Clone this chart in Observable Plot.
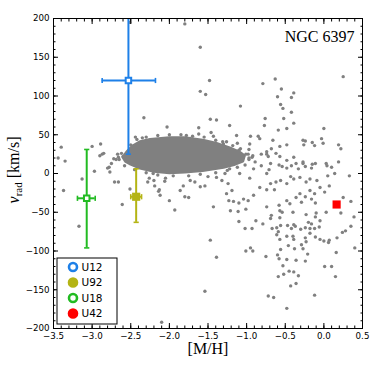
<!DOCTYPE html>
<html><head><meta charset="utf-8">
<script src="https://cdn.jsdelivr.net/npm/d3@7"></script>
<script src="https://cdn.jsdelivr.net/npm/@observablehq/plot@0.6"></script>
<style>body{margin:0;background:#fff} svg{display:block}</style>
</head><body><div id="chart"></div>
<script>
// field stars: [ [M/H], v_rad ]
const fieldStars = [
[-1.60,163],[-1.48,120],[-1.60,106],[-1.53,102],[-0.79,116],[-0.63,122],[0.25,125],[-0.55,109],[-0.60,99],[-0.39,104],[-0.42,98],[-1.08,87],[-0.56,89],[-0.53,84],[-0.42,79],[-1.47,70],[-1.39,69],[-1.22,62],[-0.76,71],[-0.77,62],[-0.52,71],[-0.39,65],[-1.62,59],[-1.13,49],[-0.95,48],[-0.85,48],[-0.83,45],[-0.66,43],[-0.59,56],[-0.48,58],[-0.27,43],[-0.26,37],[-0.15,40],[-0.12,36],[0.00,58],[-0.03,45],[-0.01,39],[0.19,37],[0.22,32],[0.33,-3],[0.10,8],[0.19,15],[0.03,13],[-0.15,12],[-0.27,13],[-0.39,21],[-0.48,17],[-0.57,22],[-0.74,25],[-0.93,21],[-1.01,25],[-1.21,28],
[-1.31,41],[-0.97,31],[-1.10,30],[-1.04,22],[-1.14,20],[-0.97,20],[-0.92,23],[-0.89,15],[-0.81,25],[-0.74,28],[-0.68,32],[-0.62,26],[-0.57,35],[-0.48,37],[-0.72,22],[-0.69,13],[-0.81,10],[-0.71,5],[-0.74,0],[-0.58,11],[-0.54,9],[-0.48,7],[-0.42,10],[-0.36,13],[-0.33,6],[-0.27,15],[-0.24,9],[-0.16,7],[-0.11,13],[0.04,10],[0.14,0],[-0.24,42],[-0.43,-4],[-0.39,-7],[-0.48,-13],[-0.56,-9],[-0.62,-11],[-0.69,-13],[-0.64,-21],[-0.74,-21],[-0.83,-18],[-0.91,-28],[-0.98,-35],[-1.04,-33],[-1.10,-38],[-1.17,-36],[-1.23,-35],[-1.19,-22],[-1.26,-26],[-1.24,-13],[-1.43,-43],[-0.58,-41],[-0.57,-48],[-0.48,-35],[-0.44,-39],[-0.36,-31],[-0.31,-26],[-0.29,-37],[-0.24,-30],[-0.18,-22],[-0.16,-33],[-0.12,-26],[-0.11,-38],[-0.09,-9],[-0.05,-18],[-0.18,-7],[-0.23,-11],[-0.31,-5],[0.05,-3],[0.07,-16],[0.01,-24],[0.03,-50],[0.25,-31],[0.35,-36],[0.22,-51],[-0.74,-43],[-0.68,-54],[-0.54,-50],[-0.40,-50],[-0.23,-53],[-0.10,-51],[-1.01,-46],[-1.11,-49],[-1.21,-48],[-0.96,38],[-0.91,6],[-1.09,0],[-0.96,-6],
[-1.10,-62],[-0.88,-61],[-1.02,-71],[-0.93,-71],[-0.79,-65],[-0.69,-58],[-0.57,-57],[-0.67,-71],[-0.61,-70],[-0.56,-67],[-0.59,-75],[-0.61,-79],[-0.57,-85],[-0.47,-67],[-0.39,-66],[-0.42,-71],[-0.37,-68],[-0.30,-72],[-0.24,-70],[-0.20,-63],[-0.16,-65],[-0.11,-56],[-0.05,-61],[-0.18,-71],[-0.12,-71],[-0.06,-69],[-0.18,-77],[-0.24,-83],[-0.23,-88],[-0.11,-82],[-0.05,-85],[0.00,-87],[0.06,-89],[0.07,-86],[0.17,-83],[0.24,-76],[0.28,-74],[0.35,-68],[0.39,-56],[0.40,-96],[0.16,-102],[0.01,-120],[0.10,-120],[0.15,-133],[-0.48,-81],[-0.40,-81],[-0.39,-85],[-0.46,-93],[-0.38,-97],[-0.29,-92],[-0.27,-97],[-0.21,-104],[-0.24,-113],[-0.36,-112],[-0.48,-111],[-0.56,-98],[-0.60,-105],[-0.58,-110],[-0.53,-119],[-0.59,-133],[-0.52,-130],[-0.45,-126],[-0.39,-127],[-0.33,-132],[-0.43,-145],[-0.36,-142],[-0.75,-107],[-1.01,-100],[-0.95,-96],[-0.92,-100],[-1.47,-86],[-1.39,-108],[-1.54,-152],[-0.72,-158],[-0.65,-160],[-0.48,-174],[-0.12,-157],
[-2.51,195],[-1.80,193],[-2.33,72],[-2.03,60],[-2.44,47],[-3.40,34],[-3.44,20],[-3.35,16],[-3.00,35],[-2.89,38],[-2.87,25],[-2.97,3],[-3.13,-7],[-2.80,7],[-2.71,-11],[-2.66,-11],[-2.77,2],[-2.75,13],[-2.69,18],[-2.66,21],[-2.60,22],[-3.37,-22],[-2.61,-40],[-2.78,8],[-2.90,23],[-2.85,26],[-2.72,19],[-2.67,25],[-2.19,-16],[-2.13,-21],[-2.06,-10],[-2.00,-35],[-1.93,-47],[-1.80,-30],[-1.75,-31],[-2.21,0],[-2.28,-11],[-3.17,-68],[-2.51,-20],[-2.14,-23],[-2.12,-28],[-2.10,-192],
[-1.78,49],[-1.46,53],[-1.43,48],[-1.60,-17],[-1.54,-16],[-1.67,-11],[-1.32,-9],[-1.39,-5],[-1.28,0],[-1.22,6],[-1.82,-16],[-1.86,-22],
[-2.50,37],[-2.42,44],[-2.30,47],[-2.15,49],[-2.00,50],[-1.85,50],[-1.70,48],[-1.55,47],[-1.40,43],[-1.30,38],[-1.18,36],[-1.08,32],[-0.98,25],[-0.97,18],[-1.02,11],[-1.12,8],[-1.25,4],[-1.40,1],[-1.60,-1],[-1.75,-3],[-1.95,-3],[-2.15,-2],[-2.30,1],[-2.45,5],[-2.58,10],[-2.65,18],[-2.62,26],[-2.26,-6],[-2.20,-9],[-1.73,-9],[-2.05,-6],[-1.50,-4],[-2.35,46],[-1.62,51],[-1.12,39],[-1.26,41]
];
// outline of the saturated cluster core
const coreOutline = [[-2.60,21],[-2.55,28],[-2.48,35],[-2.38,41],[-2.25,44],[-2.00,46],[-1.80,46],[-1.57,43],[-1.40,39],[-1.22,33],[-1.10,28],[-1.03,23],[-1.05,16],[-1.15,12],[-1.30,8],[-1.57,4],[-1.80,2],[-2.00,1],[-2.20,3],[-2.38,7],[-2.50,12],[-2.57,16]];

const objNames = ["U12","U92","U18","U42"];
const objMH    = [-2.53,-2.43,-3.07,0.165];
const objMHlo  = [-2.87,-2.50,-3.19,0.165];
const objMHhi  = [-2.18,-2.36,-2.96,0.165];
const objV     = [120,-30,-32,-40];
const objVlo   = [25,-63,-96,-40];
const objVhi   = [215,6,31,-40];
const objColor = ["#1e80e8","#b4b414","#22bb22","#ff0000"];
const objOpen  = [true,false,true,false];

const xTicks = [-3.5,-3.0,-2.5,-2.0,-1.5,-1.0,-0.5,0.0,0.5];
const yTicks = [-200,-150,-100,-50,0,50,100,150,200];
const xMinor = d3.range(-35,6).map(d=>d/10);
const yMinor = d3.range(-200,201,10);

const stars = fieldStars.map(([m,v])=>({m,v}));
const core = coreOutline.map(([m,v])=>({m,v}));
const objs = objNames.map((name,i)=>({name,m:objMH[i],mlo:objMHlo[i],mhi:objMHhi[i],v:objV[i],vlo:objVlo[i],vhi:objVhi[i],color:objColor[i],open:objOpen[i]}));
const bars = objs.filter(o=>o.vlo!==o.vhi);

const hline = {draw(ctx,size){const r=Math.sqrt(size/Math.PI);ctx.moveTo(-r,0);ctx.lineTo(r,0);}};
const vline = {draw(ctx,size){const r=Math.sqrt(size/Math.PI);ctx.moveTo(0,-r);ctx.lineTo(0,r);}};
const fmt = d3.format(".1f");
const blank = ()=>"";
const grey = "#808080";

const chart = Plot.plot({
  width:374, height:374,
  marginLeft:53, marginRight:12, marginTop:18, marginBottom:46,
  style:{fontFamily:"DejaVu Sans", background:"white", color:"black"},
  x:{domain:[-3.5,0.5]},
  y:{domain:[-200,200]},
  marks:[
    Plot.line(core,{x:"m",y:"v",fill:grey,stroke:grey,strokeWidth:3,curve:"linear-closed"}),
    Plot.dot(stars,{x:"m",y:"v",r:1.7,fill:grey}),
    // error bars
    Plot.ruleX(bars,{x:"m",y1:"vlo",y2:"vhi",stroke:"color",strokeWidth:2,clip:true}),
    Plot.ruleY(bars,{y:"v",x1:"mlo",x2:"mhi",stroke:"color",strokeWidth:2}),
    Plot.dot(bars,{x:"m",y:"vlo",symbol:hline,r:2.6,stroke:"color",strokeWidth:1.6}),
    Plot.dot(bars.filter(o=>o.vhi<200),{x:"m",y:"vhi",symbol:hline,r:2.6,stroke:"color",strokeWidth:1.6}),
    Plot.dot(bars,{x:"mlo",y:"v",symbol:vline,r:2.6,stroke:"color",strokeWidth:1.6}),
    Plot.dot(bars,{x:"mhi",y:"v",symbol:vline,r:2.6,stroke:"color",strokeWidth:1.6}),
    Plot.dot(objs.filter(o=>o.open),{x:"m",y:"v",symbol:"square",r:3.1,fill:"white",stroke:"color",strokeWidth:2}),
    Plot.dot(objs.filter(o=>!o.open),{x:"m",y:"v",symbol:"square",r:4.6,fill:"color"}),
    // axes
    Plot.axisX({ticks:xTicks,tickSize:0,tickPadding:4,tickFormat:fmt,fontSize:8.7,label:null}),
    Plot.axisX({ticks:xTicks,tickSize:-5,tickFormat:blank,label:null}),
    Plot.axisX({ticks:xMinor,tickSize:-2.5,tickFormat:blank,label:null}),
    Plot.axisX({anchor:"top",ticks:xTicks,tickSize:-5,tickFormat:blank,label:null}),
    Plot.axisX({anchor:"top",ticks:xMinor,tickSize:-2.5,tickFormat:blank,label:null}),
    Plot.axisY({ticks:yTicks,tickSize:0,tickPadding:4,tickFormat:d3.format("d"),fontSize:8.7,label:null}),
    Plot.axisY({ticks:yTicks,tickSize:-5,tickFormat:blank,label:null}),
    Plot.axisY({ticks:yMinor,tickSize:-2.5,tickFormat:blank,label:null}),
    Plot.axisY({anchor:"right",ticks:yTicks,tickSize:-5,tickFormat:blank,label:null}),
    Plot.axisY({anchor:"right",ticks:yMinor,tickSize:-2.5,tickFormat:blank,label:null}),
    Plot.frame({stroke:"black",strokeWidth:1}),
    Plot.text(["NGC 6397"],{frameAnchor:"top-right",dx:-8,dy:12,textAnchor:"end",fontFamily:"Liberation Serif",fontSize:16}),
    Plot.text(["[M/H]"],{frameAnchor:"bottom",dy:25,fontFamily:"Liberation Serif",fontSize:16})
  ]
});
document.getElementById("chart").append(chart);

// y-axis label with italic v and subscript
const svg = d3.select(chart);
const ylab = svg.append("text")
  .attr("transform","translate(19,170) rotate(-90)")
  .attr("text-anchor","middle")
  .attr("font-family","Liberation Serif").attr("font-size",16).attr("fill","black");
ylab.append("tspan").attr("font-style","italic").text("v");
ylab.append("tspan").attr("font-size",11).attr("dy",3).text("rad");
ylab.append("tspan").attr("dy",-3).text(" [km/s]");

// legend (lower-left, inside frame)
const L = 53, B = 374-46;
const lg = svg.append("g");
lg.append("rect").attr("x",L+4).attr("y",B-70).attr("width",60).attr("height",66)
  .attr("fill","white").attr("stroke","black").attr("stroke-width",1);
objs.forEach((o,i)=>{
  const cy = B-61 + i*15.5;
  lg.append("circle").attr("cx",L+20).attr("cy",cy).attr("r",4)
    .attr("fill",o.open?"white":o.color).attr("stroke",o.color).attr("stroke-width",2.6);
  lg.append("text").attr("x",L+39).attr("y",cy).attr("dy","0.36em")
    .attr("font-family","DejaVu Sans").attr("font-size",10.5).attr("fill","black").text(o.name);
});
</script>
</body></html>
